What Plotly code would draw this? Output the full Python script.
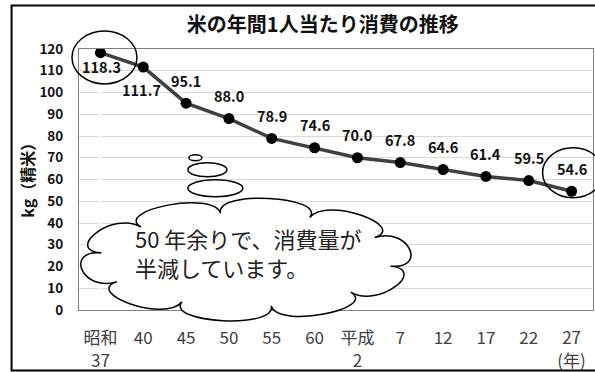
import math
import plotly.graph_objects as go

# ---- data ----
categories = ["昭和<br>37", "40", "45", "50", "55", "60", "平成<br>2", "7", "12", "17", "22", "27<br>(年)"]
consumption = [118.3, 111.7, 95.1, 88.0, 78.9, 74.6, 70.0, 67.8, 64.6, 61.4, 59.5, 54.6]
y_ticks = [0, 10, 20, 30, 40, 50, 60, 70, 80, 90, 100, 110, 120]
title_text = "米の年間1人当たり消費の推移"
y_title = "kg（精米）"
note_text = "50 年余りで、消費量が<br>半減しています。"

W, H = 595, 372
L, R, T, B = 79, 1.5, 49, 61.5
PW, PH = W - L - R, H - T - B

def px(x):
    return (x - L) / PW

def py(y):
    return (H - B - y) / PH

FONT = "Noto Sans CJK JP"
xs = list(range(len(categories)))

fig = go.Figure()
fig.add_trace(go.Scatter(
    x=xs, y=consumption, mode="lines+markers",
    line=dict(color="#404040", width=3.5),
    marker=dict(color="#000000", size=11),
    hoverinfo="skip", showlegend=False,
))

# data labels
for i, v in enumerate(consumption):
    if i == 0:
        xs_, ys_ = 1, -14
    elif i == 1:
        xs_, ys_ = -2, -22
    else:
        xs_, ys_ = 0, 23
    fig.add_annotation(x=xs[i], y=v, xref="x", yref="y", text=f"{v:.1f}",
                       showarrow=False, xshift=xs_, yshift=ys_,
                       font=dict(family=FONT, size=14.5, color="#111111", weight="bold"))

shapes = []
# outer frame
shapes.append(dict(type="rect", xref="paper", yref="paper",
                   x0=px(11.5), x1=px(602), y0=py(371), y1=py(5.5),
                   line=dict(color="#000000", width=2), fillcolor="rgba(0,0,0,0)", layer="above"))
# circles around first and last points
shapes.append(dict(type="circle", xref="paper", yref="paper",
                   x0=px(72), x1=px(137), y0=py(84), y1=py(31),
                   line=dict(color="#000000", width=1.5), layer="above"))
shapes.append(dict(type="circle", xref="paper", yref="paper",
                   x0=px(543), x1=px(604), y0=py(198), y1=py(148),
                   line=dict(color="#000000", width=1.5), layer="above"))
# thought bubbles
for (x0, x1, y0, y1) in [(189, 202, 155, 161), (188, 227, 163, 177), (188, 243, 180, 197)]:
    shapes.append(dict(type="circle", xref="paper", yref="paper",
                       x0=px(x0), x1=px(x1), y0=py(y1), y1=py(y0),
                       fillcolor="white", line=dict(color="#000000", width=1.5), layer="above"))

# cloud path
cx, cy, a, b, hgt, N = 246, 260, 146, 47, 24, 10
theta0 = math.radians(8)
pts = []
for i in range(N):
    t = theta0 + 2 * math.pi * i / N
    ex, ey = a * math.cos(t), b * math.sin(t)
    nx, ny = math.cos(t), math.sin(t)
    pts.append(((cx + ex, cy + ey), (nx, ny)))

def P(x, y):
    return f"{px(x):.5f},{py(y):.5f}"

path = "M " + P(*pts[0][0])
for i in range(N):
    (p0, n0), (p1, n1) = pts[i], pts[(i + 1) % N]
    c1 = (p0[0] + hgt * n0[0] * 1.6, p0[1] + hgt * n0[1])
    c2 = (p1[0] + hgt * n1[0] * 1.6, p1[1] + hgt * n1[1])
    path += f" C {P(*c1)} {P(*c2)} {P(*p1)}"
path += " Z"
shapes.append(dict(type="path", xref="paper", yref="paper", path=path,
                   fillcolor="white", line=dict(color="#000000", width=1.5), layer="above"))

fig.add_annotation(x=px(133), y=py(253), xref="paper", yref="paper", text=note_text,
                   showarrow=False, xanchor="left", yanchor="middle", align="left",
                   font=dict(family=FONT, size=22, color="#222222"))

fig.add_annotation(x=px(27), y=py(177), xref="paper", yref="paper", text=y_title,
                   showarrow=False, textangle=-90, xanchor="center", yanchor="middle",
                   font=dict(family=FONT, size=16, color="#111111", weight="bold"))

fig.update_layout(
    width=W, height=H,
    margin=dict(l=L, r=R, t=T, b=B, pad=0, autoexpand=False),
    paper_bgcolor="white", plot_bgcolor="white",
    title=dict(text=title_text, x=px(323), xref="paper", xanchor="center",
               y=1 - 25 / H, yref="container", yanchor="middle",
               font=dict(family=FONT, size=20, color="#111111", weight="bold")),
    shapes=shapes,
    xaxis=dict(tickmode="array", tickvals=xs, ticktext=categories,
               range=[-0.5, len(categories) - 0.5], showgrid=False, automargin=False,
               showline=True, linecolor="#808080", linewidth=1, mirror=True,
               ticks="", ticklabelstandoff=13, ticklabeloverflow="allow", fixedrange=True,
               tickfont=dict(family=FONT, size=17, color="#404040")),
    yaxis=dict(range=[0, 120], tickmode="array", tickvals=y_ticks, automargin=False,
               showgrid=True, gridcolor="#d9d9d9", gridwidth=1.2,
               showline=True, linecolor="#808080", linewidth=1, mirror=True,
               zeroline=False, ticks="", ticklabelstandoff=12, fixedrange=True,
               tickfont=dict(family=FONT, size=13.5, color="#111111", weight="bold")),
)

fig.write_html("out.html")
